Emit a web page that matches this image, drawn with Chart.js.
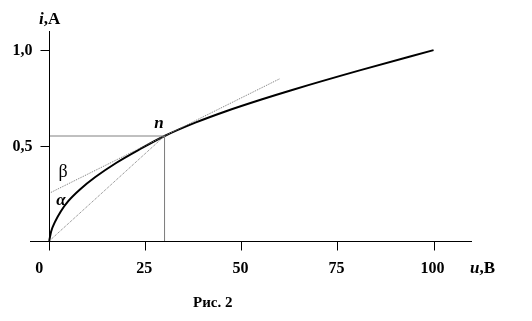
<!DOCTYPE html>
<html>
<head>
<meta charset="utf-8">
<script src="https://cdn.jsdelivr.net/npm/chart.js@4/dist/chart.umd.min.js"></script>
<style>
  body { margin: 0; background: #fff; }
  canvas { display: block; }
</style>
</head>
<body>
<canvas id="myChart" width="532" height="321"></canvas>
<script>
// curve i(u)
const voltage = [0, 0.5, 1.5, 3, 5, 8, 12, 17.5, 23.5, 30, 38, 46, 55, 63, 81, 100];
const current = [0, 0.05, 0.1, 0.155, 0.21, 0.27, 0.335, 0.41, 0.48, 0.55, 0.62, 0.68, 0.74, 0.79, 0.895, 1.0];

// chord from origin to point n, tangent at n
const chordU = [0, 30];
const chordI = [0, 0.55];
const tangentU = [0, 60];
const tangentI = [0.25, 0.85];

// guide lines to point n
const guideU = [0, 30, 30];
const guideI = [0.55, 0.55, 0];

// ticks
const xTicks = [0, 25, 50, 75, 100];
const xTickLabels = ['0', '25', '50', '75', '100'];
const yTicks = [1.0, 0.5];
const yTickLabels = ['1,0', '0,5'];

function toPoints(xs, ys) {
    return xs.map((x, k) => ({ x: x, y: ys[k] }));
}

const serif = '"Liberation Serif", "DejaVu Serif", serif';

// axes, ticks and all the texts
const axesPlugin = {
    id: 'axesPlugin',
    afterDraw(chart) {
        const ctx = chart.ctx;
        const xs = chart.scales.x;
        const ys = chart.scales.y;
        const area = chart.chartArea;
        const x0 = Math.round(xs.getPixelForValue(0)) + 0.5;
        const y0 = Math.round(ys.getPixelForValue(0)) + 0.5;

        ctx.save();
        ctx.strokeStyle = '#000';
        ctx.lineWidth = 1;
        ctx.beginPath();
        ctx.moveTo(area.left, y0);
        ctx.lineTo(area.right, y0);
        ctx.moveTo(x0, y0);
        ctx.lineTo(x0, area.top);
        xTicks.forEach((t) => {
            const px = Math.round(xs.getPixelForValue(t)) + 0.5;
            ctx.moveTo(px, y0);
            ctx.lineTo(px, y0 + 9);
        });
        yTicks.forEach((t) => {
            const py = Math.round(ys.getPixelForValue(t)) + 0.5;
            ctx.moveTo(x0 - 9, py);
            ctx.lineTo(x0, py);
        });
        ctx.stroke();

        ctx.fillStyle = '#000';
        ctx.font = 'bold 16px ' + serif;
        ctx.textBaseline = 'alphabetic';
        ctx.textAlign = 'center';
        xTicks.forEach((t, k) => {
            let px = xs.getPixelForValue(t) - 1;
            if (t === 0) px -= 9;
            ctx.fillText(xTickLabels[k], px, 273);
        });
        ctx.textAlign = 'right';
        yTicks.forEach((t, k) => {
            ctx.fillText(yTickLabels[k], x0 - 17, ys.getPixelForValue(t) + 5);
        });

        // axis titles
        ctx.textAlign = 'left';
        ctx.font = 'bold italic 17px ' + serif;
        ctx.fillText('i', 39, 24);
        let w = ctx.measureText('i').width;
        ctx.font = 'bold 17px ' + serif;
        ctx.fillText(',A', 39 + w, 24);

        ctx.font = 'bold italic 17px ' + serif;
        ctx.fillText('u', 470, 273);
        w = ctx.measureText('u').width;
        ctx.font = 'bold 17px ' + serif;
        ctx.fillText(',B', 470 + w, 273);

        // labels on the plot
        ctx.textAlign = 'center';
        ctx.font = 'bold italic 17px ' + serif;
        ctx.fillText('n', 159, 128);
        ctx.fillText('α', 61, 205);
        ctx.font = '18px ' + serif;
        ctx.fillText('β', 63, 177);

        // caption
        ctx.textAlign = 'left';
        ctx.font = 'bold 15px ' + serif;
        ctx.fillText('Рис. 2', 193, 307);
        ctx.restore();
    }
};

const config = {
    type: 'scatter',
    data: {
        datasets: [
            {
                data: toPoints(guideU, guideI),
                showLine: true,
                borderColor: '#808080',
                borderWidth: 1,
                pointRadius: 0,
                tension: 0
            },
            {
                data: toPoints(chordU, chordI),
                showLine: true,
                borderColor: '#777',
                borderWidth: 1,
                borderDash: [1, 1],
                pointRadius: 0
            },
            {
                data: toPoints(tangentU, tangentI),
                showLine: true,
                borderColor: '#777',
                borderWidth: 1,
                borderDash: [1, 1],
                pointRadius: 0
            },
            {
                data: toPoints(voltage, current),
                showLine: true,
                borderColor: '#000',
                borderWidth: 2,
                pointRadius: 0,
                cubicInterpolationMode: 'monotone'
            }
        ]
    },
    options: {
        responsive: false,
        animation: false,
        layout: { padding: { left: 30, right: 60, top: 31, bottom: 80 } },
        plugins: {
            legend: { display: false },
            tooltip: { enabled: false }
        },
        scales: {
            x: { type: 'linear', min: -5, max: 110, display: false },
            y: { type: 'linear', min: 0, max: 1.1, display: false }
        }
    },
    plugins: [axesPlugin]
};

const myChart = new Chart(document.getElementById('myChart'), config);
</script>
</body>
</html>
